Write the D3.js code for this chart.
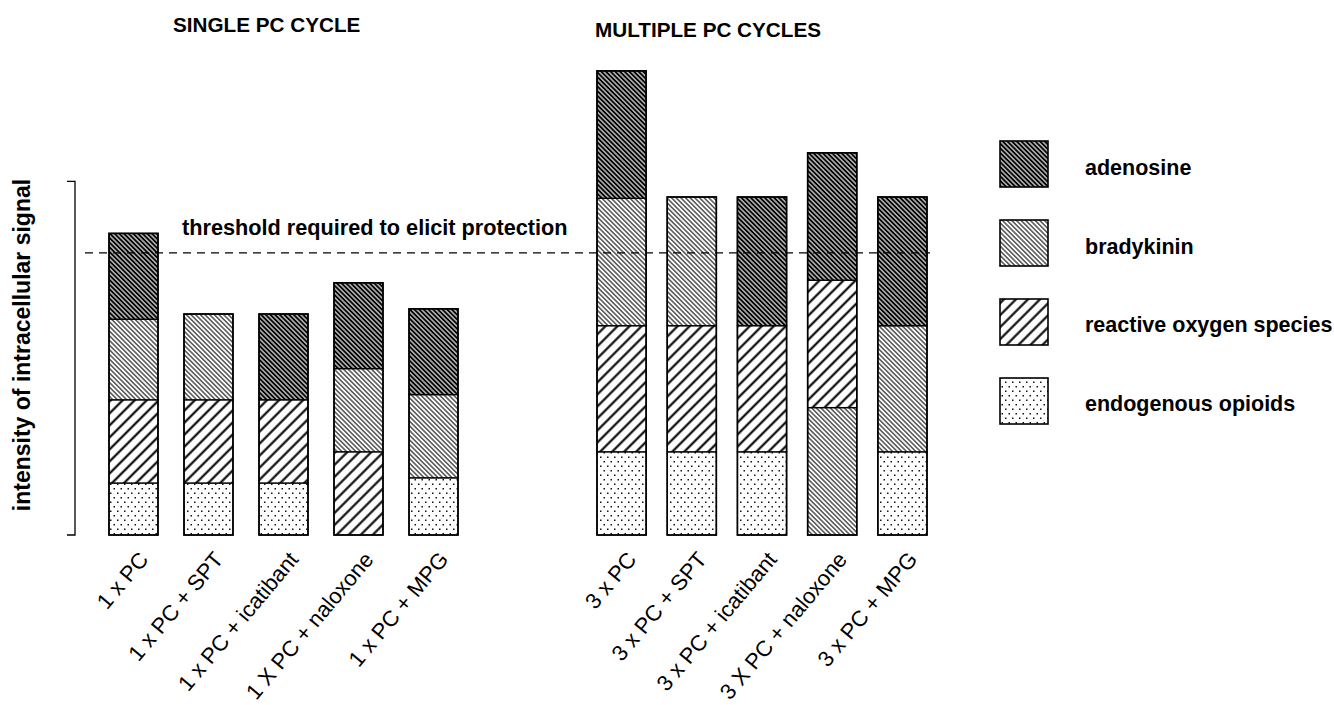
<!DOCTYPE html>
<html>
<head>
<meta charset="utf-8">
<script src="https://cdn.jsdelivr.net/npm/d3@7"></script>
<style>
  body { margin: 0; background: #fff; }
  text { font-family: "Liberation Sans", Arial, Helvetica, sans-serif; fill: #000; }
</style>
</head>
<body>
<svg id="chart" width="1334" height="705"></svg>
<script>
// categories of the two groups
const singleCats = ["1 x PC", "1 x PC + SPT", "1 x PC + icatibant", "1 X PC + naloxone", "1 x PC + MPG"];
const multiCats = ["3 x PC", "3 x PC + SPT", "3 x PC + icatibant", "3 X PC + naloxone", "3 x PC + MPG"];

// stack order from bottom to top, and the size of each piece (arbitrary signal units)
const singleTypes = [
  ["opioid", "ros", "brady", "adeno"],
  ["opioid", "ros", "brady"],
  ["opioid", "ros", "adeno"],
  ["ros", "brady", "adeno"],
  ["opioid", "brady", "adeno"]
];
const singleValues = [
  [2.0, 3.2, 3.1, 3.3],
  [2.0, 3.2, 3.3],
  [2.0, 3.2, 3.3],
  [3.2, 3.2, 3.3],
  [2.2, 3.2, 3.3]
];
const multiTypes = [
  ["opioid", "ros", "brady", "adeno"],
  ["opioid", "ros", "brady"],
  ["opioid", "ros", "adeno"],
  ["brady", "ros", "adeno"],
  ["opioid", "brady", "adeno"]
];
const multiValues = [
  [3.2, 4.85, 4.9, 4.9],
  [3.2, 4.85, 4.95],
  [3.2, 4.85, 4.95],
  [4.9, 4.9, 4.9],
  [3.2, 4.85, 4.95]
];

const threshold = 10.85;
const bracketTop = 13.6;

const legendKeys = ["adeno", "brady", "ros", "opioid"];
const legendLabels = ["adenosine", "bradykinin", "reactive oxygen species", "endogenous opioids"];

const svg = d3.select("#chart");
const defs = svg.append("defs");

// hatch patterns
function stripes(id, period, width, color, angle) {
  const p = defs.append("pattern")
    .attr("id", id)
    .attr("patternUnits", "userSpaceOnUse")
    .attr("width", period).attr("height", period)
    .attr("patternTransform", "rotate(" + angle + ")");
  p.append("rect").attr("width", period).attr("height", period).attr("fill", "#fff");
  p.append("line")
    .attr("x1", period / 2).attr("y1", -1)
    .attr("x2", period / 2).attr("y2", period + 1)
    .attr("stroke", color).attr("stroke-width", width);
}
stripes("p-adeno", 3.3, 2.2, "#000", -45);
stripes("p-brady", 3.3, 1.1, "#111", -45);
stripes("p-ros", 8.5, 2.1, "#000", 45);

const dots = defs.append("pattern")
  .attr("id", "p-opioid")
  .attr("patternUnits", "userSpaceOnUse")
  .attr("width", 7).attr("height", 9);
dots.append("rect").attr("width", 7).attr("height", 9).attr("fill", "#fff");
dots.append("rect").attr("x", 1.5).attr("y", 2).attr("width", 1.5).attr("height", 1.5).attr("fill", "#111");
dots.append("rect").attr("x", 5).attr("y", 6.5).attr("width", 1.5).attr("height", 1.5).attr("fill", "#111");

const y = d3.scaleLinear().domain([0, 20]).range([535, 15]);

const xSingle = d3.scaleBand().domain(singleCats).range([109, 458]).paddingInner(0.347).paddingOuter(0);
const xMulti = d3.scaleBand().domain(multiCats).range([597, 927]).paddingInner(0.30).paddingOuter(0);

function drawGroup(cats, types, values, x) {
  cats.forEach((cat, i) => {
    let base = 0;
    const g = svg.append("g");
    types[i].forEach((t, j) => {
      const v = values[i][j];
      g.append("rect")
        .attr("x", x(cat))
        .attr("y", y(base + v))
        .attr("width", x.bandwidth())
        .attr("height", y(base) - y(base + v))
        .attr("fill", "url(#p-" + t + ")")
        .attr("stroke", "#000")
        .attr("stroke-width", 1.3);
      base += v;
    });
    g.append("rect")
      .attr("x", x(cat)).attr("y", y(base))
      .attr("width", x.bandwidth()).attr("height", y(0) - y(base))
      .attr("fill", "none").attr("stroke", "#000").attr("stroke-width", 1.6);

    svg.append("text")
      .attr("transform", "translate(" + (x(cat) + x.bandwidth() / 2 + 16) + ",560) rotate(-50)")
      .attr("text-anchor", "end")
      .style("font-size", "22px")
      .text(cat);
  });
}

drawGroup(singleCats, singleTypes, singleValues, xSingle);
drawGroup(multiCats, multiTypes, multiValues, xMulti);

// threshold line
svg.append("line")
  .attr("x1", 85).attr("x2", 930)
  .attr("y1", y(threshold)).attr("y2", y(threshold))
  .attr("stroke", "#000").attr("stroke-width", 1.1)
  .attr("stroke-dasharray", "8,6");

svg.append("text")
  .attr("x", 182).attr("y", y(threshold) - 18)
  .style("font-size", "21.7px").style("font-weight", "bold")
  .text("threshold required to elicit protection");

// bracket for the signal axis
svg.append("path")
  .attr("d", "M67," + y(bracketTop) + "H75V" + y(0) + "H67")
  .attr("fill", "none").attr("stroke", "#000").attr("stroke-width", 1.3);

svg.append("text")
  .attr("transform", "translate(30,345) rotate(-90)")
  .attr("text-anchor", "middle")
  .style("font-size", "23px").style("font-weight", "bold")
  .text("intensity of intracellular signal");

// group titles
svg.append("text").attr("x", 173).attr("y", 32)
  .style("font-size", "20.7px").style("font-weight", "bold").text("SINGLE PC CYCLE");
svg.append("text").attr("x", 595).attr("y", 37)
  .style("font-size", "20.7px").style("font-weight", "bold").text("MULTIPLE PC CYCLES");

// legend
const legend = svg.append("g").attr("transform", "translate(1000,141)");
legendKeys.forEach((k, i) => {
  legend.append("rect")
    .attr("x", 0).attr("y", i * 79)
    .attr("width", 48).attr("height", 46)
    .attr("fill", "url(#p-" + k + ")")
    .attr("stroke", "#000").attr("stroke-width", 1.6);
  legend.append("text")
    .attr("x", 85).attr("y", i * 78.5 + 34)
    .style("font-size", "21.5px").style("font-weight", "bold")
    .text(legendLabels[i]);
});
</script>
</body>
</html>
